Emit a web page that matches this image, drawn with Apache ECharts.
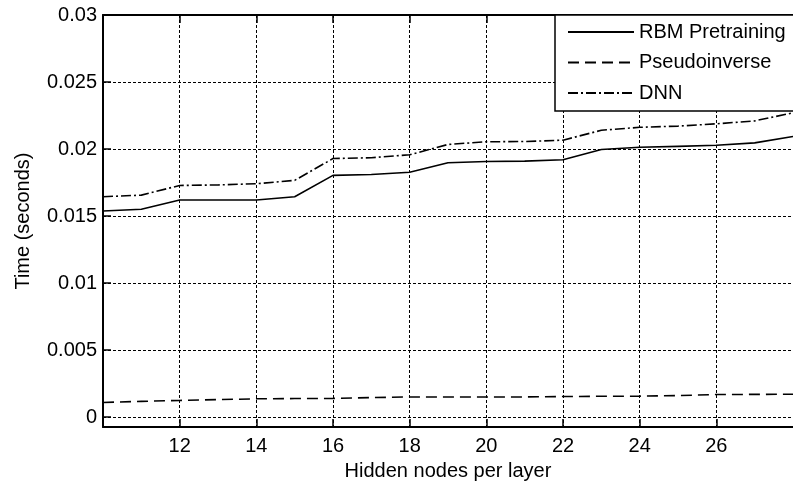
<!DOCTYPE html>
<html>
<head>
<meta charset="utf-8">
<script src="https://cdn.jsdelivr.net/npm/echarts@6/dist/echarts.min.js"></script>
<style>
html,body{margin:0;padding:0;background:#fff;}
#chart{width:793px;height:486px;}
</style>
</head>
<body>
<div id="chart"></div>
<script>
var hiddenNodes = [10,11,12,13,14,15,16,17,18,19,20,21,22,23,24,25,26,27,28];
var rbmPretraining = [0.01537,0.0155,0.0162,0.0162,0.0162,0.01644,0.01803,0.0181,0.01827,0.01897,0.01907,0.0191,0.0192,0.01996,0.02013,0.0202,0.02028,0.02046,0.02094];
var pseudoinverse = [0.00109,0.00117,0.00124,0.0013,0.00136,0.00138,0.00139,0.00145,0.0015,0.0015,0.0015,0.0015,0.00153,0.00155,0.00156,0.0016,0.00168,0.00169,0.0017];
var dnn = [0.01644,0.01656,0.01728,0.01732,0.01741,0.01766,0.01929,0.01935,0.01957,0.02034,0.02054,0.02056,0.02066,0.0214,0.02162,0.02171,0.02188,0.0221,0.0227];
var seriesNames = ['RBM Pretraining','Pseudoinverse','DNN'];

function pairs(xs, ys){ return xs.map(function(x,i){ return [x, ys[i]]; }); }

var font = 'Liberation Sans, Arial, Helvetica, sans-serif';
var chart = echarts.init(document.getElementById('chart'), null, {renderer:'canvas'});
chart.setOption({
  animation:false,
  backgroundColor:'#fff',
  grid:{left:103, top:15, right:-8, bottom:58, show:false},
  legend:{
    data:seriesNames,
    orient:'vertical',
    left:555, top:15,
    padding:[7,20,8,12],
    itemWidth:66, itemHeight:20, itemGap:10.5,
    backgroundColor:'#fff', borderColor:'#000', borderWidth:1.5, borderRadius:0,
    textStyle:{fontFamily:font, fontSize:20, color:'#000', padding:[0,0,0,0]},
    itemStyle:{opacity:0}
  },
  xAxis:[{
    type:'value', min:10, max:28, interval:2,
    name:'Hidden nodes per layer', nameLocation:'middle', nameGap:31,
    nameTextStyle:{fontFamily:font, fontSize:20, color:'#000'},
    axisLine:{show:true, onZero:false, lineStyle:{color:'#000', width:2}},
    axisTick:{show:true, inside:true, length:8, lineStyle:{color:'#000', width:1.5}},
    axisLabel:{fontFamily:font, fontSize:20, color:'#000', margin:9, showMinLabel:false, showMaxLabel:false},
    splitLine:{show:true, lineStyle:{color:'#000', width:1, type:[3,2]}}
  },{
    type:'value', min:10, max:28, interval:2, position:'top',
    axisLine:{show:true, onZero:false, lineStyle:{color:'#000', width:2}},
    axisTick:{show:true, inside:true, length:8, lineStyle:{color:'#000', width:1.5}},
    axisLabel:{show:false}, splitLine:{show:false}
  }],
  yAxis:[{
    type:'value', min:-0.00075, max:0.03, splitNumber:6,
    name:'Time (seconds)', nameLocation:'middle', nameGap:70, nameRotate:90,
    nameTextStyle:{fontFamily:font, fontSize:20, color:'#000'},
    axisLine:{show:true, onZero:false, lineStyle:{color:'#000', width:2}},
    axisTick:{show:true, inside:true, length:8, lineStyle:{color:'#000', width:1.5}},
    axisLabel:{fontFamily:font, fontSize:20, color:'#000', margin:6, showMinLabel:false,
      formatter:function(v){ return String(parseFloat(v.toFixed(5))); }},
    splitLine:{show:true, lineStyle:{color:'#000', width:1, type:[3,2]}}
  }],
  series:[
    {name:seriesNames[0], type:'line', data:pairs(hiddenNodes, rbmPretraining), symbol:'none',
     lineStyle:{color:'#000', width:1.6, type:'solid'}, itemStyle:{color:'#000'}},
    {name:seriesNames[1], type:'line', data:pairs(hiddenNodes, pseudoinverse), symbol:'none',
     lineStyle:{color:'#000', width:1.6, type:[11,6]}, itemStyle:{color:'#000'}},
    {name:seriesNames[2], type:'line', data:pairs(hiddenNodes, dnn), symbol:'none',
     lineStyle:{color:'#000', width:1.6, type:[10,3,2,3]}, itemStyle:{color:'#000'}}
  ]
});
</script>
</body>
</html>
